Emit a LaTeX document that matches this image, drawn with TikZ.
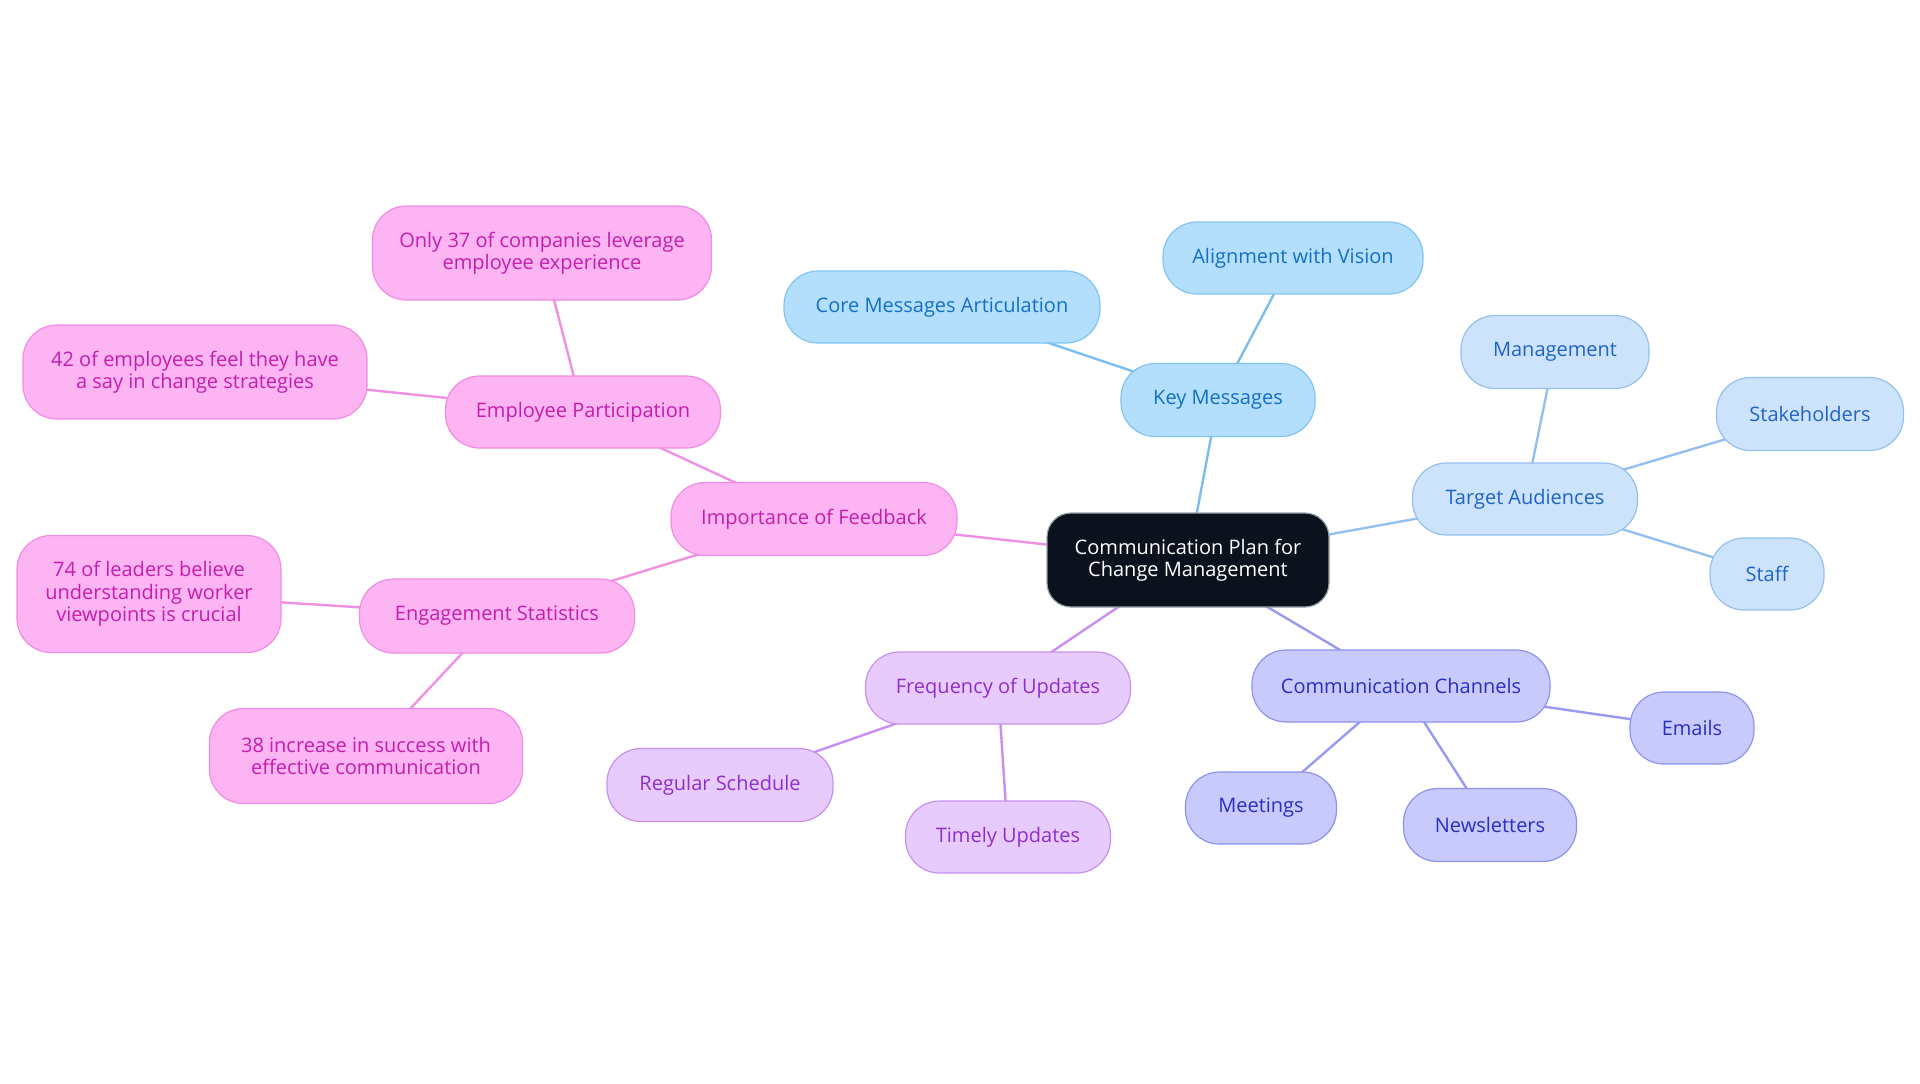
\documentclass[tikz,border=0pt]{standalone}
\usepackage{fontspec}
\setmainfont{Open Sans}
\usetikzlibrary{backgrounds}
\definecolor{rootfill}{HTML}{0C121D}
\definecolor{rootdraw}{HTML}{9AA0A8}
\definecolor{kmfill}{HTML}{B3DEFC}
\definecolor{kmdraw}{HTML}{80C4F5}
\definecolor{kmtext}{HTML}{1570C4}
\definecolor{kmedge}{HTML}{7CBDF0}
\definecolor{tafill}{HTML}{CDE3FB}
\definecolor{tadraw}{HTML}{94C0F0}
\definecolor{tatext}{HTML}{1F63C9}
\definecolor{taedge}{HTML}{94C0F0}
\definecolor{ccfill}{HTML}{C8CAFC}
\definecolor{ccdraw}{HTML}{8E92F0}
\definecolor{cctext}{HTML}{2B2FC0}
\definecolor{ccedge}{HTML}{979AF0}
\definecolor{fufill}{HTML}{E7CBFC}
\definecolor{fudraw}{HTML}{C890F0}
\definecolor{futext}{HTML}{8E2FCB}
\definecolor{fuedge}{HTML}{C88EF0}
\definecolor{iffill}{HTML}{FDB4F3}
\definecolor{ifdraw}{HTML}{F28CE2}
\definecolor{iftext}{HTML}{C51DAC}
\definecolor{ifedge}{HTML}{F090E0}
\begin{document}
\begin{tikzpicture}[x=0.5pt,y=-0.5pt,
  bx/.style={rectangle, rounded corners=17pt, line width=0.6pt, inner sep=0pt, align=center,
    font=\fontsize{10}{11.2}\selectfont},
  rootbox/.style={bx, rounded corners=12pt, fill=rootfill, draw=rootdraw, text=white},
  kmbox/.style={bx, fill=kmfill, draw=kmdraw, text=kmtext},
  tabox/.style={bx, fill=tafill, draw=tadraw, text=tatext},
  ccbox/.style={bx, fill=ccfill, draw=ccdraw, text=cctext},
  fubox/.style={bx, fill=fufill, draw=fudraw, text=futext},
  ifbox/.style={bx, fill=iffill, draw=ifdraw, text=iftext},
  lk/.style={line width=1.2pt},
]
\useasboundingbox (0,0) rectangle (1920,1083);
% root
\node[rootbox, minimum width=141pt, minimum height=47pt] (root) at (1188,560) {Communication Plan for\\Change Management};
% key messages
\node[kmbox, minimum width=97pt, minimum height=36.5pt] (km) at (1218,400) {Key Messages};
\node[kmbox, minimum width=130pt, minimum height=36pt] (av) at (1293,258) {Alignment with Vision};
\node[kmbox, minimum width=158pt, minimum height=36pt] (cm) at (942,307) {Core Messages Articulation};
% target audiences
\node[tabox, minimum width=112.5pt, minimum height=36pt] (ta) at (1525,499) {Target Audiences};
\node[tabox, minimum width=94pt, minimum height=36.5pt] (mg) at (1555,352) {Management};
\node[tabox, minimum width=93.5pt, minimum height=36.5pt] (sh) at (1810,414) {Stakeholders};
\node[tabox, minimum width=57pt, minimum height=36pt] (sf) at (1767,574) {Staff};
% communication channels
\node[ccbox, minimum width=149pt, minimum height=36pt] (cc) at (1401,686) {Communication Channels};
\node[ccbox, minimum width=75.5pt, minimum height=36pt] (mt) at (1261,808) {Meetings};
\node[ccbox, minimum width=86.5pt, minimum height=36.5pt] (nl) at (1490,825) {Newsletters};
\node[ccbox, minimum width=62pt, minimum height=36pt] (em) at (1692,728) {Emails};
% frequency of updates
\node[fubox, minimum width=132.5pt, minimum height=36pt] (fu) at (998,688) {Frequency of Updates};
\node[fubox, minimum width=113pt, minimum height=36.5pt] (rs) at (720,785) {Regular Schedule};
\node[fubox, minimum width=102.5pt, minimum height=36pt] (tu) at (1008,837) {Timely Updates};
% importance of feedback
\node[ifbox, minimum width=143pt, minimum height=36.5pt] (if) at (814,519) {Importance of Feedback};
\node[ifbox, minimum width=137.5pt, minimum height=36pt] (ep) at (583,412) {Employee Participation};
\node[ifbox, minimum width=169.5pt, minimum height=47pt] (o37) at (542,253) {Only 37 of companies leverage\\employee experience};
\node[ifbox, minimum width=172pt, minimum height=47pt] (f42) at (195,372) {42 of employees feel they have\\a say in change strategies};
\node[ifbox, minimum width=137.5pt, minimum height=37pt] (es) at (497,616) {Engagement Statistics};
\node[ifbox, minimum width=132pt, minimum height=58.5pt] (l74) at (149,594) {74 of leaders believe\\understanding worker\\viewpoints is crucial};
\node[ifbox, minimum width=156.5pt, minimum height=47.5pt] (i38) at (366,756) {38 increase in success with\\effective communication};
\begin{scope}[on background layer]
\draw[lk, kmedge] (root.center) -- (km.center);
\draw[lk, kmedge] (km.center) -- (av.center);
\draw[lk, kmedge] (km.center) -- (cm.center);
\draw[lk, taedge] (root.center) -- (ta.center);
\draw[lk, taedge] (ta.center) -- (mg.center);
\draw[lk, taedge] (ta.center) -- (sh.center);
\draw[lk, taedge] (ta.center) -- (sf.center);
\draw[lk, ccedge] (root.center) -- (cc.center);
\draw[lk, ccedge] (cc.center) -- (mt.center);
\draw[lk, ccedge] (cc.center) -- (nl.center);
\draw[lk, ccedge] (cc.center) -- (em.center);
\draw[lk, fuedge] (root.center) -- (fu.center);
\draw[lk, fuedge] (fu.center) -- (rs.center);
\draw[lk, fuedge] (fu.center) -- (tu.center);
\draw[lk, ifedge] (root.center) -- (if.center);
\draw[lk, ifedge] (if.center) -- (ep.center);
\draw[lk, ifedge] (ep.center) -- (o37.center);
\draw[lk, ifedge] (ep.center) -- (f42.center);
\draw[lk, ifedge] (if.center) -- (es.center);
\draw[lk, ifedge] (es.center) -- (l74.center);
\draw[lk, ifedge] (es.center) -- (i38.center);
\end{scope}
\end{tikzpicture}
\end{document}
